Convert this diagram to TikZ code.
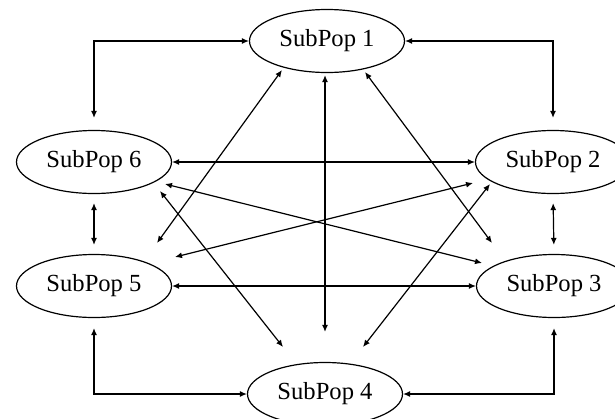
\documentclass[tikz,border=0pt]{standalone}
\usepackage{fontspec}
\setmainfont{Liberation Serif}
\usetikzlibrary{shapes.geometric,arrows.meta}

\begin{document}
\begin{tikzpicture}[x=0.5pt,y=-0.5pt,
  pop/.style={draw,ellipse,line width=0.6pt,minimum width=77.5pt,minimum height=31.5pt,inner sep=0pt,font=\fontsize{12.3}{14}\selectfont},
  link/.style={<->,>={Latex[length=3.5pt,width=3pt]},line width=0.6pt}]
  \useasboundingbox (0,0) rectangle (615,418);
  % the six sub-populations
  \node[pop] (s1) at (327,41) {SubPop 1};
  \node[pop] (s2) at (553,162) {SubPop 2};
  \node[pop] (s3) at (554,286) {SubPop 3};
  \node[pop] (s4) at (325,394) {SubPop 4};
  \node[pop] (s5) at (94,286) {SubPop 5};
  \node[pop] (s6) at (94,162) {SubPop 6};
  % ring around the outside
  \draw[link,shorten >=6pt] (s1.west) -| (s6.north);
  \draw[link,shorten >=6pt] (s1.east) -| (s2.north);
  \draw[link,shorten >=5pt] (s4.west) -| (s5.south);
  \draw[link,shorten >=5pt] (s4.east) -| (s3.south);
  \draw[link,shorten <=4.5pt,shorten >=4.5pt] (s6.south) -- (s5.north);
  \draw[link,shorten <=4.5pt,shorten >=4.5pt] (s2.south) -- (s3.north);
  % links across the middle
  \draw[link] (s6.east) -- (s2.west);
  \draw[link] (s5.east) -- (s3.west);
  \draw[link,shorten <=1pt,shorten >=15pt] (s1.south -| s4.north) -- (s4.north);
  \draw[link] ([shift={(-45,29)}]s1.center) -- ([shift={(63,-43)}]s5.center);
  \draw[link] ([shift={(38,31)}]s1.center) -- ([shift={(-62,-43)}]s3.center);
  \draw[link] ([shift={(66,29)}]s6.center) -- ([shift={(-42,-47)}]s4.center);
  \draw[link] ([shift={(-63,22)}]s2.center) -- ([shift={(38,-47)}]s4.center);
  \draw[link] ([shift={(71,22)}]s6.center) -- ([shift={(-72,-23)}]s3.center);
  \draw[link] ([shift={(81,-29)}]s5.center) -- ([shift={(-80,21)}]s2.center);
\end{tikzpicture}
\end{document}
